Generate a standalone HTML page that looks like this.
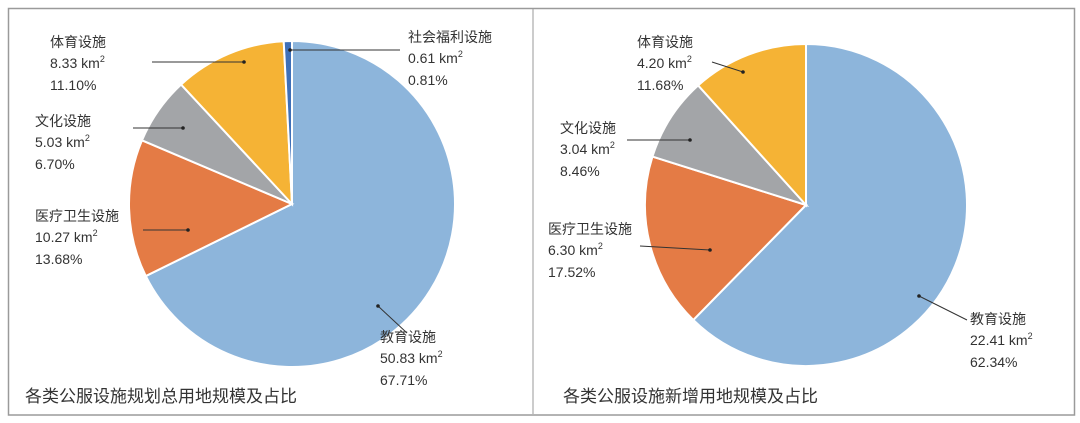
<!DOCTYPE html>
<html><head><meta charset="utf-8"><style>
body{margin:0;background:#fff;width:1080px;height:423px;overflow:hidden;font-family:"Liberation Sans","Noto Sans CJK SC",sans-serif}
svg{display:block}
text{font-family:"Liberation Sans","Noto Sans CJK SC",sans-serif;fill:#333}
</style></head><body>
<svg id="c" width="1080" height="423">
<rect x="8.5" y="8.5" width="1066" height="406.5" fill="none" stroke="#9a9a9a" stroke-width="1.5"/>
<line x1="533" y1="9" x2="533" y2="414" stroke="#9a9a9a" stroke-width="1"/>
<text x="25" y="402" font-size="17">各类公服设施规划总用地规模及占比</text>
<text x="563" y="402" font-size="17">各类公服设施新增用地规模及占比</text>
</svg>
<script>
const leftCats=["教育设施","医疗卫生设施","文化设施","体育设施","社会福利设施"];
const leftArea=[50.83,10.27,5.03,8.33,0.61];
const leftPct=[67.71,13.68,6.70,11.10,0.81];
const rightCats=["教育设施","医疗卫生设施","文化设施","体育设施"];
const rightArea=[22.41,6.30,3.04,4.20];
const rightPct=[62.34,17.52,8.46,11.68];
const colors=["#8db5db","#e47b45","#a3a5a8","#f5b335","#3f70b8"];
const NS="http://www.w3.org/2000/svg";
const svg=document.getElementById('c');
function mk(t,a){const e=document.createElementNS(NS,t);for(const k in a)e.setAttribute(k,a[k]);svg.appendChild(e);return e;}
function pie(cx,cy,r,pct,cats,area,side,labels){
  const tot=pct.reduce((a,b)=>a+b,0);let a0=0;
  pct.forEach((p,i)=>{
    const a1=a0+p/tot*2*Math.PI;
    const x0=cx+r*Math.sin(a0),y0=cy-r*Math.cos(a0),x1=cx+r*Math.sin(a1),y1=cy-r*Math.cos(a1);
    const large=(a1-a0)>Math.PI?1:0;
    const s=mk('path',{d:`M${cx},${cy}L${x0},${y0}A${r},${r} 0 ${large} 1 ${x1},${y1}Z`,fill:colors[i],stroke:'#fff','stroke-width':2});
    
    
    const L=labels[i];
    const l=mk('line',{x1:L.lx1,y1:L.ly1,x2:L.lx2,y2:L.ly2,stroke:'#333','stroke-width':1});
    
    
    const d=mk('circle',{cx:L.lx2,cy:L.ly2,r:1.8,fill:'#222'});
    
    
    const g=document.createElementNS(NS,'g');svg.appendChild(g);
    
    
    const t1=document.createElementNS(NS,'text');t1.setAttribute('x',L.x);t1.setAttribute('y',L.y);t1.setAttribute('font-size','14');t1.textContent=cats[i];g.appendChild(t1);
    const t2=document.createElementNS(NS,'text');t2.setAttribute('x',L.x);t2.setAttribute('y',L.y+21);t2.setAttribute('font-size','14');t2.textContent=area[i].toFixed(2)+' km';
    const sup=document.createElementNS(NS,'tspan');sup.setAttribute('font-size','9');sup.setAttribute('dy','-6');sup.textContent='2';t2.appendChild(sup);g.appendChild(t2);
    const t3=document.createElementNS(NS,'text');t3.setAttribute('x',L.x);t3.setAttribute('y',L.y+43);t3.setAttribute('font-size','14');t3.textContent=pct[i].toFixed(2)+'%';g.appendChild(t3);
    a0=a1;
  });
}
pie(292,204,163,leftPct,leftCats,leftArea,'left',[
 {x:380,y:342,lx1:407,ly1:333,lx2:378,ly2:306},
 {x:35,y:221,lx1:143,ly1:230,lx2:188,ly2:230},
 {x:35,y:126,lx1:133,ly1:128,lx2:183,ly2:128},
 {x:50,y:47,lx1:152,ly1:62,lx2:244,ly2:62},
 {x:408,y:42,lx1:400,ly1:50,lx2:290,ly2:50}]);
pie(806,205,161,rightPct,rightCats,rightArea,'right',[
 {x:970,y:324,lx1:967,ly1:320,lx2:919,ly2:296},
 {x:548,y:234,lx1:640,ly1:246,lx2:710,ly2:250},
 {x:560,y:133,lx1:627,ly1:140,lx2:690,ly2:140},
 {x:637,y:47,lx1:712,ly1:62,lx2:743,ly2:72}]);
</script>
</body></html>
